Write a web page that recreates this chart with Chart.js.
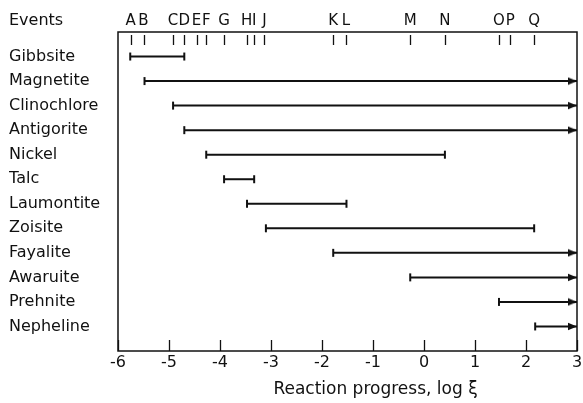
<!DOCTYPE html>
<html>
<head>
<meta charset="utf-8">
<script src="https://cdn.jsdelivr.net/npm/chart.js"></script>
<style>
  html, body { margin: 0; padding: 0; background: #fff; }
  #wrap { width: 583px; height: 403px; }
</style>
</head>
<body>
<div id="wrap"><canvas id="chart"></canvas></div>
<script>
// minéraux et intervalles de stabilité (log ξ)
const minerals = ["Gibbsite", "Magnetite", "Clinochlore", "Antigorite", "Nickel", "Talc",
    "Laumontite", "Zoisite", "Fayalite", "Awaruite", "Prehnite", "Nepheline"];
const startVals = [-5.76, -5.48, -4.92, -4.70, -4.27, -3.92, -3.47, -3.10, -1.78, -0.27, 1.47, 2.18];
const endVals = [-4.70, 3, 3, 3, 0.41, -3.33, -1.52, 2.16, 3, 3, 3, 3];
const openEnded = [false, true, true, true, false, false, false, false, true, true, true, true];

// événements en haut du cadre
const eventLetters = ["A", "B", "C", "D", "E", "F", "G", "H", "I", "J", "K", "L", "M", "N", "O", "P", "Q"];
const eventVals = [-5.75, -5.50, -4.92, -4.70, -4.46, -4.27, -3.92, -3.48, -3.33, -3.13,
    -1.78, -1.53, -0.27, 0.41, 1.47, 1.69, 2.16];

const xTicks = [-6, -5, -4, -3, -2, -1, 0, 1, 2, 3];

const FONT = "'DejaVu Sans', sans-serif";
const INK = "#111";

// pointe de flèche : la pointe est au centre de l'image
function makeArrow() {
    const c = document.createElement("canvas");
    c.width = 20; c.height = 9;
    const g = c.getContext("2d");
    g.fillStyle = INK;
    g.beginPath();
    g.moveTo(10, 4.5);
    g.lineTo(1, 0.8);
    g.lineTo(1, 8.2);
    g.closePath();
    g.fill();
    return c;
}
const arrow = makeArrow();

const datasets = minerals.map((name, i) => ({
    label: name,
    data: [{ x: startVals[i], y: i }, { x: endVals[i], y: i }],
    borderColor: INK,
    borderWidth: 2,
    backgroundColor: INK,
    pointBorderColor: INK,
    pointBackgroundColor: INK,
    pointBorderWidth: 2,
    pointRadius: 4,
    pointStyle: ["line", openEnded[i] ? arrow : "line"],
    pointRotation: [90, openEnded[i] ? 0 : 90],
    tension: 0,
    clip: false
}));

const framePlugin = {
    id: "frame",
    afterDraw(chart) {
        const { ctx, chartArea: a, scales: { x } } = chart;
        ctx.save();
        ctx.strokeStyle = INK;
        ctx.lineWidth = 1.5;
        ctx.strokeRect(a.left, a.top, a.right - a.left, a.bottom - a.top);

        ctx.lineWidth = 1.3;
        ctx.beginPath();
        xTicks.forEach(v => {
            const px = Math.round(x.getPixelForValue(v)) + 0.5;
            ctx.moveTo(px, a.bottom);
            ctx.lineTo(px, a.bottom - 11);
        });
        eventVals.forEach(v => {
            const px = Math.round(x.getPixelForValue(v)) + 0.5;
            ctx.moveTo(px, a.top + 3);
            ctx.lineTo(px, a.top + 13);
        });
        ctx.stroke();

        ctx.fillStyle = INK;
        ctx.textBaseline = "middle";
        ctx.textAlign = "center";
        ctx.font = "15px " + FONT;
        eventLetters.forEach((l, i) => {
            ctx.fillText(l, x.getPixelForValue(eventVals[i]), 21);
        });

        ctx.textAlign = "left";
        ctx.font = "16px " + FONT;
        ctx.fillText("Events", 9, 21);

        ctx.textAlign = "center";
        ctx.font = "17px " + FONT;
        ctx.fillText("Reaction progress, log ξ", (a.left + a.right) / 2 + 28, 390);
        ctx.restore();
    }
};

new Chart(document.getElementById("chart"), {
    type: "line",
    data: { datasets },
    options: {
        responsive: true,
        maintainAspectRatio: false,
        animation: false,
        events: [],
        layout: { padding: { left: 9, top: 32, right: 6, bottom: 0 } },
        plugins: {
            legend: { display: false },
            tooltip: { enabled: false }
        },
        scales: {
            x: {
                type: "linear",
                min: -6,
                max: 3,
                afterBuildTicks: s => { s.ticks = xTicks.map(v => ({ value: v })); },
                afterFit: s => { s.height = 52; s.paddingLeft = 0; s.paddingRight = 0; },
                grid: { display: false, drawTicks: false },
                border: { display: false },
                ticks: {
                    color: INK,
                    font: { family: FONT, size: 16 },
                    padding: 2,
                    maxRotation: 0,
                    autoSkip: false,
                    callback: v => String(v)
                }
            },
            y: {
                type: "linear",
                min: -1,
                max: 12,
                reverse: true,
                afterBuildTicks: s => { s.ticks = minerals.map((_, i) => ({ value: i })); },
                afterFit: s => { s.width = 109; s.paddingTop = 0; s.paddingBottom = 0; },
                grid: { display: false, drawTicks: false },
                border: { display: false },
                ticks: {
                    color: INK,
                    font: { family: FONT, size: 16 },
                    crossAlign: "far",
                    autoSkip: false,
                    callback: v => minerals[v]
                }
            }
        }
    },
    plugins: [framePlugin]
});
</script>
</body>
</html>
